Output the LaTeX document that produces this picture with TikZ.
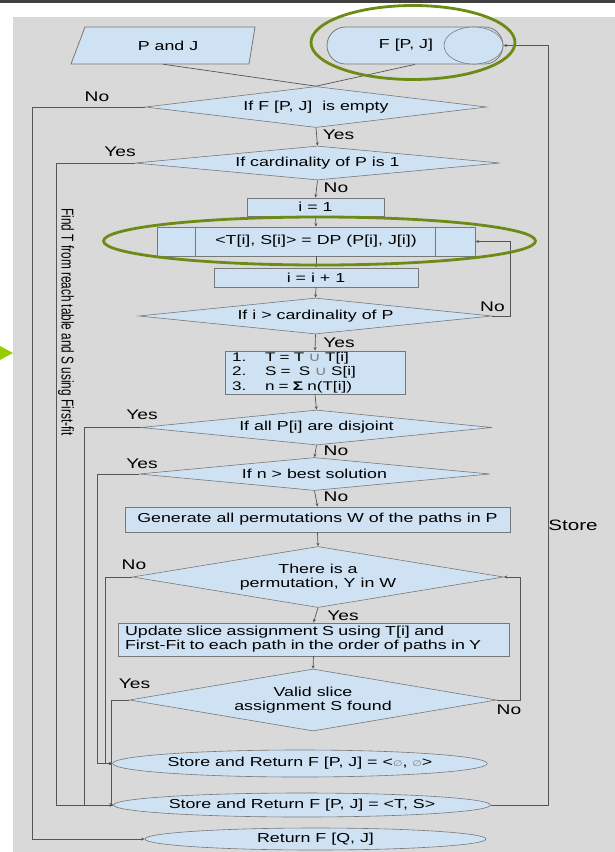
\documentclass[tikz,border=0pt]{standalone}
\usepackage{fontspec}
\setmainfont{Liberation Sans}[FakeStretch=1.37]
\newfontfamily\plainfont{Liberation Sans}
\newfontfamily\symbfont{DejaVu Sans}[FakeStretch=1.37]
\usetikzlibrary{shapes.geometric,arrows.meta,calc}

\definecolor{boxblue}{RGB}{207,226,243}
\definecolor{panelgray}{RGB}{217,217,217}
\definecolor{linegray}{RGB}{85,85,85}
\definecolor{edgegray}{RGB}{120,120,120}
\definecolor{olivering}{RGB}{108,138,22}
\definecolor{bulletgreen}{RGB}{153,204,0}

\newcommand{\cupsym}{{\symbfont\textcolor{gray}{∪}}}
\newcommand{\emptysym}{{\symbfont\fontsize{8}{8}\selectfont\textcolor{gray}{∅}}}

\begin{document}
\begin{tikzpicture}[x=1pt,y=1pt,yscale=-1,
  every node/.style={font=\fontsize{13}{14}\selectfont, inner sep=0pt},
  procbox/.style={draw=edgegray, fill=boxblue, line width=0.8pt, rectangle},
  decision/.style={draw=edgegray, fill=boxblue, line width=0.6pt, diamond},
  terminal/.style={draw=edgegray, fill=boxblue, line width=0.6pt, ellipse},
  flow/.style={draw=linegray, line width=0.7pt},
  flowarrow/.style={flow, -{Stealth[length=3.5pt,width=3pt]}},
  answer/.style={font=\fontsize{14}{16}\selectfont},
  ring/.style={draw=olivering, line width=2.8pt}]
\useasboundingbox (0,0) rectangle (615,852);

%Shape: Background panel
\fill[panelgray] (13,17) rectangle (615,852);
\fill[black!75] (0,0) rectangle (615,3);
\fill[bulletgreen] (0,346) -- (13,353) -- (0,360) -- cycle;

%Lanes for the side connectors
\coordinate (laneA) at (32,0);
\coordinate (laneB) at (56,0);
\coordinate (laneC) at (84,0);
\coordinate (laneD) at (97,0);
\coordinate (laneE) at (105,0);
\coordinate (laneF) at (111,0);
\coordinate (laneR1) at (510,0);
\coordinate (laneR2) at (520,0);
\coordinate (laneS) at (548,0);

%Shape: Parallelogram (input)
\draw[draw=edgegray, fill=boxblue, line width=0.8pt] (71,64) -- (85,27) -- (255,27) -- (249,64) -- cycle;
\node[minimum width=170pt, minimum height=37pt] (pj) at (163,45.5) {\hspace*{10pt}P and J};
%Shape: Stored table
\node[procbox, rounded corners=18.5pt, minimum width=176pt, minimum height=37pt] (fpj) at (415,45.5) {\hspace*{-18pt}F [P, J]};
\node[terminal, minimum width=59pt, minimum height=37pt] (fpjdisk) at (473.5,45.5) {};

%Shape: Decisions
\node[decision, aspect=8.3, minimum width=341pt, minimum height=41pt] (empty) at (316,107) {If F [P, J]\ \ is empty};
\node[decision, aspect=10.7, minimum width=365pt, minimum height=34pt] (card) at (317.5,163) {If cardinality of P is 1};
\node[decision, aspect=9.8, minimum width=353pt, minimum height=36pt] (last) at (315.5,316) {If i > cardinality of P};
\node[decision, aspect=10, minimum width=351pt, minimum height=35pt] (disj) at (316.5,427.5) {If all P[i] are disjoint};
\node[decision, aspect=10.6, minimum width=351pt, minimum height=33pt] (best) at (314.5,474) {If n > best solution};
\node[decision, aspect=6.1, minimum width=371pt, minimum height=61pt, align=center] (perm) at (318,577) {There is a\\permutation, Y in W};
\node[decision, aspect=5.9, minimum width=367pt, minimum height=62pt, align=center] (valid) at (313,700) {Valid slice\\assignment S found};

%Shape: Process boxes
\node[procbox, minimum width=137pt, minimum height=18pt] (init) at (315.5,207) {i = 1};
\node[procbox, minimum width=318pt, minimum height=29pt] (dp) at (316,241.5) {<T[i], S[i]> = DP (P[i], J[i])};
\draw[edgegray, line width=0.8pt] ($(dp.north west)+(39,0)$) -- ($(dp.south west)+(39,0)$);
\draw[edgegray, line width=0.8pt] ($(dp.north east)+(-40,0)$) -- ($(dp.south east)+(-40,0)$);
\node[procbox, minimum width=204pt, minimum height=19pt] (incr) at (316,277.5) {i = i + 1};
\node[procbox, text width=166pt, inner xsep=7pt, minimum height=43pt, align=left, font=\fontsize{12.5}{14.5}\selectfont] (union) at (315,372.5) {\makebox[33pt][l]{1.}T = T \cupsym{} T[i]\\\makebox[33pt][l]{2.}S =\ \ S \cupsym{} S[i]\\\makebox[33pt][l]{3.}n = {\bfseries Σ} n(T[i])};
\node[procbox, minimum width=385pt, minimum height=25pt] (gen) at (317.5,519.5) {Generate all permutations W of the paths in P};
\node[procbox, text width=377pt, inner xsep=7pt, minimum height=33pt, align=left] (slice) at (313.5,639.5) {Update slice assignment S using T[i] and\\First-Fit to each path in the order of paths in Y};

%Shape: Terminals
\node[terminal, minimum width=342pt, minimum height=27pt] (none) at (300,763.5) {Store and Return F [P, J] = <\emptysym, \emptysym>};
\node[terminal, minimum width=330pt, minimum height=24pt] (ts) at (302,805) {Store and Return F [P, J] = <T, S>};
\node[terminal, minimum width=341pt, minimum height=22pt] (qj) at (315.5,839) {Return F [Q, J]};

%Connectors
\draw[flow] (pj.south) -- (empty.north);
\draw[flow] (fpj.south) -- (empty.north);
\draw[flowarrow] (empty.south) -- (card.north);
\draw[flowarrow] (empty.west) -- (empty.west -| laneA) |- (qj.west);
\draw[flowarrow] (card.west) -- (card.west -| laneB) |- (ts.west);
\draw[flowarrow] (card.south) -- (init.north);
\draw[flowarrow] (init.south) -- (dp.north);
\draw[flowarrow] (dp.south) -- (incr.north);
\draw[flowarrow] (incr.south) -- (last.north);
\draw[flowarrow] (last.east) -- (last.east -| laneR1) |- (dp.east);
\draw[flowarrow] (last.south) -- (union.north);
\draw[flowarrow] (union.south) -- (disj.north);
\draw[flowarrow] (disj.west) -- (disj.west -| laneC) |- (ts.west);
\draw[flowarrow] (disj.south) -- (best.north);
\draw[flowarrow] (best.west) -- (best.west -| laneD) |- (none.west);
\draw[flowarrow] (best.south) -- (gen.north);
\draw[flowarrow] (gen.south) -- (perm.north);
\draw[flowarrow] (perm.west) -- (perm.west -| laneE) |- (none.west);
\draw[flowarrow] (perm.south) -- (slice.north);
\draw[flowarrow] (slice.south) -- (valid.north);
\draw[flowarrow] (valid.west) -- (valid.west -| laneF) |- (ts.west);
\draw[flowarrow] (valid.east) -- (valid.east -| laneR2) |- (perm.east);
\draw[flowarrow] (ts.east) -- (ts.east -| laneS) |- (fpj.east);

% Text Node
\node[answer] (noA) at (97,97) {No};
\node[answer] (yesA) at (338.5,135) {Yes};
\node[answer] (yesB) at (120,152) {Yes};
\node[answer] (noB) at (336,188) {No};
\node[answer] (noC) at (492.5,307) {No};
\node[answer] (yesC) at (339,343) {Yes};
\node[answer] (yesD) at (142,415) {Yes};
\node[answer] (noD) at (336,451) {No};
\node[answer] (yesE) at (142,464) {Yes};
\node[answer] (noE) at (336,497) {No};
\node[answer] (noF) at (134,565) {No};
\node[answer] (yesF) at (343,616) {Yes};
\node[answer] (yesG) at (134.5,684) {Yes};
\node[answer] (noG) at (509,710) {No};
\node[font=\fontsize{15}{17}\selectfont] (store) at (573,525) {Store};
\node[rotate=-90] (findt) at (66,322) {\scalebox{1}[1.45]{\plainfont\fontsize{11.8}{13}\selectfont Find T from reach table and S using First-fit}};

%Shape: Highlight rings
\draw[ring] (413,42.5) ellipse [x radius=102, y radius=37];
\draw[ring] (319.5,241) ellipse [x radius=216, y radius=24];

\end{tikzpicture}
\end{document}
